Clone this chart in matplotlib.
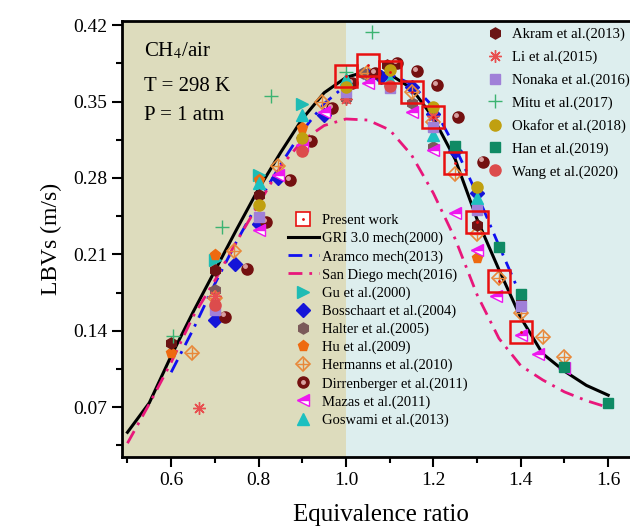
import matplotlib
matplotlib.use("Agg")
import matplotlib.pyplot as plt
from matplotlib.legend_handler import HandlerTuple
from matplotlib.transforms import ScaledTranslation

plt.rcParams['font.family'] = ['Liberation Serif', 'DejaVu Serif']
plt.rcParams['mathtext.fontset'] = 'stix'

# ---- data ----
# present work
pw_phi = [1.0, 1.05, 1.1, 1.15, 1.2, 1.25, 1.3, 1.35, 1.4]
pw_v = [0.373, 0.383, 0.377, 0.359, 0.336, 0.294, 0.240, 0.186, 0.139]

# mechanisms
gri_phi = [0.5, 0.55, 0.6, 0.65, 0.7, 0.75, 0.8, 0.85, 0.9, 0.95, 1.0, 1.05, 1.1, 1.15,
           1.2, 1.25, 1.3, 1.35, 1.4, 1.45, 1.5, 1.55, 1.6]
gri_v = [0.047, 0.074, 0.117, 0.157, 0.195, 0.233, 0.270, 0.303, 0.334, 0.358, 0.372, 0.378,
         0.375, 0.362, 0.335, 0.297, 0.242, 0.196, 0.152, 0.119, 0.103, 0.090, 0.081]
ara_phi = [0.6, 0.65, 0.7, 0.75, 0.8, 0.85, 0.9, 0.95, 1.0, 1.05, 1.1, 1.15, 1.2, 1.25,
           1.3, 1.35, 1.4]
ara_v = [0.102, 0.141, 0.183, 0.222, 0.258, 0.292, 0.323, 0.348, 0.365, 0.374, 0.375, 0.366,
         0.345, 0.308, 0.265, 0.218, 0.172]
sd_phi = [0.5, 0.55, 0.6, 0.65, 0.7, 0.75, 0.8, 0.85, 0.9, 0.95, 1.0, 1.05, 1.1, 1.15,
          1.2, 1.25, 1.3, 1.35, 1.4, 1.45, 1.5, 1.55, 1.59]
sd_v = [0.037, 0.073, 0.111, 0.153, 0.186, 0.222, 0.256, 0.290, 0.314, 0.328, 0.334, 0.333,
        0.324, 0.301, 0.266, 0.224, 0.173, 0.133, 0.108, 0.095, 0.084, 0.076, 0.071]

# experiments
gu_phi = [0.7, 0.8, 0.9]
gu_v = [0.205, 0.283, 0.348]
bos_phi = [0.7, 0.747, 0.8, 0.845, 0.95, 1.05, 1.08, 1.15, 1.2, 1.25, 1.3]
bos_v = [0.150, 0.201, 0.238, 0.280, 0.338, 0.374, 0.372, 0.363, 0.339, 0.305, 0.266]
hal_phi = [0.7, 1.0, 1.04, 1.15, 1.2]
hal_v = [0.177, 0.353, 0.376, 0.349, 0.308]
hu_phi = [0.6, 0.7, 0.8, 0.9, 1.3]
hu_v = [0.120, 0.209, 0.278, 0.326, 0.207]
her_phi = [0.648, 0.7, 0.744, 0.845, 0.946, 1.048, 1.15, 1.2, 1.25, 1.3, 1.35, 1.4, 1.45, 1.5]
her_v = [0.120, 0.170, 0.213, 0.291, 0.350, 0.376, 0.359, 0.331, 0.284, 0.229, 0.188, 0.156,
         0.134, 0.116]
dir_phi = [0.724, 0.774, 0.817, 0.872, 0.92, 0.968, 1.014, 1.067, 1.117, 1.163, 1.209, 1.257, 1.313]
dir_v = [0.153, 0.197, 0.240, 0.278, 0.314, 0.344, 0.367, 0.376, 0.385, 0.378, 0.365, 0.336, 0.295]
maz_phi = [0.8, 0.845, 0.9, 0.95, 1.05, 1.15, 1.2, 1.25, 1.3, 1.343, 1.4, 1.44, 1.5]
maz_v = [0.232, 0.283, 0.310, 0.340, 0.367, 0.340, 0.306, 0.248, 0.214, 0.172, 0.136, 0.119, 0.106]
gos_phi = [0.8, 0.9, 1.0, 1.1, 1.2, 1.3]
gos_v = [0.275, 0.338, 0.371, 0.370, 0.319, 0.262]
akr_phi = [0.6, 0.7, 0.8, 1.095, 1.3, 1.4]
akr_v = [0.129, 0.196, 0.264, 0.383, 0.237, 0.169]
li_phi = [0.664, 0.7, 1.0, 1.2]
li_v = [0.069, 0.172, 0.352, 0.337]
non_phi = [0.7, 0.8, 1.0, 1.1, 1.2, 1.3, 1.4]
non_v = [0.159, 0.244, 0.359, 0.362, 0.327, 0.251, 0.163]
mit_phi = [0.605, 0.717, 0.829, 1.0, 1.06]
mit_v = [0.135, 0.235, 0.355, 0.377, 0.414]
oka_phi = [0.8, 0.9, 1.0, 1.1, 1.2, 1.3]
oka_v = [0.255, 0.317, 0.363, 0.379, 0.345, 0.272]
han_phi = [1.25, 1.35, 1.4, 1.5, 1.6]
han_v = [0.309, 0.217, 0.174, 0.107, 0.074]
wan_phi = [0.7, 0.9, 1.1]
wan_v = [0.164, 0.305, 0.364]

fig = plt.figure(figsize=(6.3, 5.26), dpi=100)
ax = fig.add_axes([0.1937, 0.131, 0.8222, 0.829])
xmin, xmax = 0.4876, 1.6728
ax.set_xlim(xmin, xmax)
ax.set_ylim(0.0243, 0.4237)
ax.axvspan(xmin, 1.0, color='#dddcbd', zorder=0, lw=0)
ax.axvspan(1.0, xmax, color='#ddeeee', zorder=0, lw=0)

ms = 8
h_gri, = ax.plot(gri_phi, gri_v, color='black', lw=2.2, zorder=2)
h_ara, = ax.plot(ara_phi, ara_v, color='#1010f0', lw=2, dashes=(5, 2.5, 1, 2.5), zorder=2)
h_sd, = ax.plot(sd_phi, sd_v, color='#e8177b', lw=2, dashes=(5, 2.5, 1, 2.5), zorder=2)

def pts(x, y, **kw):
    h, = ax.plot(x, y, ls='none', zorder=3, **kw)
    return h

h_gu = pts(gu_phi, gu_v, marker='>', color='#1fbcb4', ms=ms)
h_bos = pts(bos_phi, bos_v, marker='D', color='#1515d8', ms=ms - 1)
h_hal = pts(hal_phi, hal_v, marker='h', color='#7b5a5a', ms=ms)
h_hu = pts(hu_phi, hu_v, marker='p', color='#ee6a10', ms=ms)
h_her1 = pts(her_phi, her_v, marker='D', mfc='none', mec='#e8883a', mew=1.2, ms=ms - 1)
h_her2 = pts(her_phi, her_v, marker='+', color='#e8883a', mew=1.0, ms=ms + 1)
h_dir = pts(dir_phi, dir_v, marker='o', color='#741010', ms=ms)
hl = ax.plot(dir_phi, dir_v, ls='none', marker='o', color='#d8a0a0', ms=2.5, zorder=3,
             transform=ax.transData + ScaledTranslation(-1.5 / 72, 1.5 / 72, fig.dpi_scale_trans))[0]
h_maz = pts(maz_phi, maz_v, marker='<', color='#ee18ee', mfc='#ee18ee', mfcalt='white',
            fillstyle='top', mec='#ee18ee', ms=ms)
h_gos = pts(gos_phi, gos_v, marker='^', color='#1cc0c0', ms=ms)
h_akr = pts(akr_phi, akr_v, marker='h', color='#6b1414', ms=ms)
h_li = pts(li_phi, li_v, marker=(8, 2, 0), color='#e85050', mew=1.0, ms=ms + 1)
h_non = pts(non_phi, non_v, marker='s', color='#a080d8', ms=ms - 1)
h_mit = pts(mit_phi, mit_v, marker='+', color='#3cb371', mew=1.0, ms=ms + 2)
h_oka = pts(oka_phi, oka_v, marker='o', color='#c0a010', ms=ms)
h_han = pts(han_phi, han_v, marker='s', color='#0f8a64', ms=ms - 1)
h_wan = pts(wan_phi, wan_v, marker='o', color='#dc4c4c', ms=ms)

h_pw = ax.plot(pw_phi, pw_v, ls='none', marker='s', mfc='none', mec='#e81010', mew=1.8,
               ms=16, zorder=4)[0]
h_pwd = ax.plot(pw_phi, pw_v, ls='none', marker='.', color='#e81010', ms=2, zorder=4)[0]

ax.set_xticks([0.6, 0.8, 1.0, 1.2, 1.4, 1.6])
ax.set_xticks([0.5, 0.7, 0.9, 1.1, 1.3, 1.5], minor=True)
ax.set_yticks([0.07, 0.14, 0.21, 0.28, 0.35, 0.42])
ax.set_yticks([0.035, 0.105, 0.175, 0.245, 0.315, 0.385], minor=True)
ax.set_xticklabels(['0.6', '0.8', '1.0', '1.2', '1.4', '1.6'])
ax.set_yticklabels(['0.07', '0.14', '0.21', '0.28', '0.35', '0.42'])
ax.tick_params(which='major', direction='out', length=7, width=1.5, labelsize=14)
ax.tick_params(which='minor', direction='out', length=4, width=1.5)
for s in ax.spines.values():
    s.set_linewidth(2)
ax.set_xlabel('Equivalence ratio', fontsize=18, labelpad=11)
ax.set_ylabel('LBVs (m/s)', fontsize=17, labelpad=8)

ax.text(0.537, 0.396, 'CH$_4$/air', fontsize=15, va='center')
ax.text(0.537, 0.364, 'T = 298 K', fontsize=15, va='center')
ax.text(0.537, 0.337, 'P = 1 atm', fontsize=15, va='center')

pw_leg = ax.plot([], [], ls='none', marker='s', mfc='white', mec='#e81010', mew=1.2, ms=10)[0]
leg1 = fig.legend([(pw_leg, h_pwd), h_gri, h_ara, h_sd, h_gu, h_bos, h_hal, h_hu,
                   (h_her1, h_her2), (h_dir, hl), h_maz, h_gos],
                  ['Present work', 'GRI 3.0 mech(2000)', 'Aramco mech(2013)',
                   'San Diego mech(2016)', 'Gu et al.(2000)', 'Bosschaart et al.(2004)',
                   'Halter et al.(2005)', 'Hu et al.(2009)', 'Hermanns et al.(2010)',
                   'Dirrenberger et al.(2011)', 'Mazas et al.(2011)', 'Goswami et al.(2013)'],
                  handler_map={tuple: HandlerTuple(ndivide=1, pad=0)},
                  loc='upper left', bbox_to_anchor=(288 / 630, 1 - 214 / 526), frameon=False,
                  fontsize=10.5, labelspacing=0.32, handlelength=2.1, handletextpad=0.2,
                  borderpad=0, borderaxespad=0)
leg2 = fig.legend([h_akr, h_li, h_non, h_mit, h_oka, h_han, h_wan],
                  ['Akram et al.(2013)', 'Li et al.(2015)', 'Nonaka et al.(2016)',
                   'Mitu et al.(2017)', 'Okafor et al.(2018)', 'Han et al.(2019)',
                   'Wang et al.(2020)'],
                  loc='upper left', bbox_to_anchor=(486 / 630, 1 - 28 / 526), frameon=False,
                  fontsize=10.6, labelspacing=0.63, handlelength=1.2, handletextpad=0.55,
                  borderpad=0, borderaxespad=0)

fig.savefig('out.png', dpi=100)
